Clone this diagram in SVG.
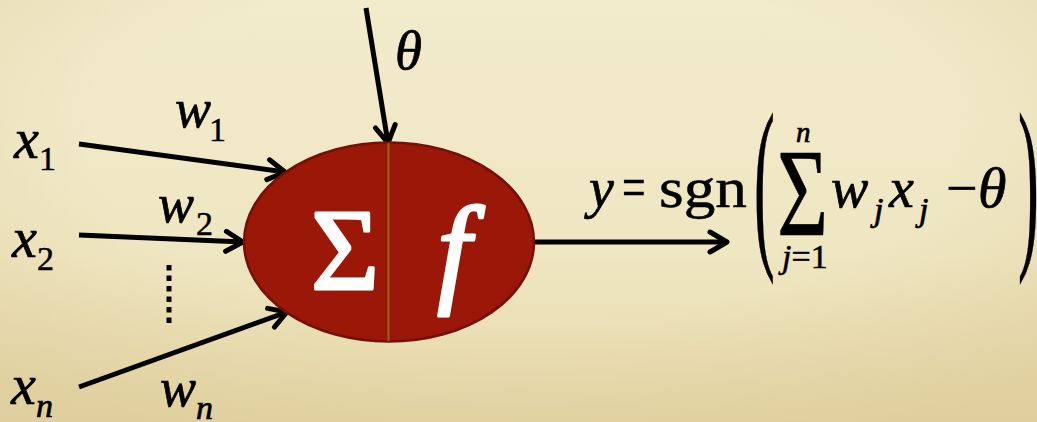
<svg xmlns="http://www.w3.org/2000/svg" width="1037" height="422" viewBox="0 0 1037 422">
  <defs>
    <linearGradient id="bg" x1="0" y1="0" x2="0" y2="1">
      <stop offset="0" stop-color="#f2ebcc"/>
      <stop offset="0.6" stop-color="#efe6c2"/>
      <stop offset="1" stop-color="#e6d8aa"/>
    </linearGradient>
    <radialGradient id="vig" cx="0.5" cy="0.35" r="0.75">
      <stop offset="0.55" stop-color="#d8c48e" stop-opacity="0"/>
      <stop offset="1" stop-color="#d8c48e" stop-opacity="0.45"/>
    </radialGradient>
    <marker id="arr" viewBox="0 0 24 24" refX="20" refY="12" markerWidth="24" markerHeight="24" markerUnits="userSpaceOnUse" orient="auto" overflow="visible">
      <path d="M3,2 L20,12 L3,22" fill="none" stroke="#000" stroke-width="5" stroke-linecap="round" stroke-linejoin="round"/>
    </marker>
    <style>
      text { font-family:"Liberation Serif", "Times New Roman", serif; }
      .ln { stroke:#000; stroke-width:5; fill:none; marker-end:url(#arr); }
      .mi { font-style:italic; fill:#000; stroke:#000; stroke-width:0.7; }
      .mr { font-style:normal; fill:#000; stroke:#000; stroke-width:0.5; }
      .wh { fill:#fff; stroke:#fff; stroke-width:3; stroke-linejoin:round; }
    </style>
  </defs>

  <rect x="0" y="0" width="1037" height="422" fill="url(#bg)"/>
  <rect x="0" y="0" width="1037" height="422" fill="url(#vig)"/>

  <g id="connectors">
    <line class="ln" x1="79" y1="144" x2="285" y2="172"/>
    <line class="ln" x1="79" y1="235" x2="243" y2="242"/>
    <line class="ln" x1="79" y1="387" x2="287" y2="312"/>
    <line class="ln" x1="366" y1="8" x2="388" y2="143"/>
    <line class="ln" x1="533" y1="242" x2="727" y2="242"/>
    <line x1="169" y1="265" x2="169" y2="325" stroke="#000" stroke-width="5" stroke-dasharray="5.5 5"/>
  </g>

  <g id="neuron">
    <ellipse cx="389" cy="242" rx="145" ry="99.5" fill="#9b1707" stroke="#74100a" stroke-width="2.5"/>
    <line x1="388.5" y1="143" x2="388.5" y2="341" stroke="#8c6a12" stroke-width="2"/>
    <text class="wh" x="311" y="289" font-size="117">Σ</text>
    <text class="wh" x="454" y="290" font-size="120" font-style="italic" text-anchor="middle" stroke-width="2">f</text>
  </g>

  <g id="input-x1">
    <text class="mi" x="14" y="158" font-size="56">x</text>
    <text class="mr" x="39" y="170" font-size="34">1</text>
  </g>
  <g id="input-x2">
    <text class="mi" x="12" y="257" font-size="56">x</text>
    <text class="mr" x="37" y="270" font-size="34">2</text>
  </g>
  <g id="input-xn">
    <text class="mi" x="11" y="404" font-size="56">x</text>
    <text class="mi" x="36" y="417" font-size="34">n</text>
  </g>
  <g id="weight-w1">
    <text class="mi" x="175" y="127" font-size="54">w</text>
    <text class="mr" x="209" y="141" font-size="34">1</text>
  </g>
  <g id="weight-w2">
    <text class="mi" x="158" y="222" font-size="54">w</text>
    <text class="mr" x="196" y="235" font-size="34">2</text>
  </g>
  <g id="weight-wn">
    <text class="mi" x="160" y="406" font-size="54">w</text>
    <text class="mi" x="196" y="419" font-size="34">n</text>
  </g>
  <g id="threshold">
    <text class="mi" x="395" y="69" font-size="55">θ</text>
  </g>

  <g id="formula">
    <text class="mi" x="589" y="207" font-size="56">y</text>
    <text class="mr" transform="translate(622 207) scale(0.7 1)" font-size="60">=</text>
    <text class="mr" x="659" y="207" font-size="58" textLength="88" lengthAdjust="spacingAndGlyphs">sgn</text>
    <text class="mr" transform="translate(754 243.6) scale(0.52 1.58)" font-size="120" stroke-width="0.3">(</text>
    <text class="mr" transform="translate(777 235) scale(0.71 1)" font-size="124">Σ</text>
    <text class="mi" x="796" y="142" font-size="29">n</text>
    <text x="782" y="268" font-size="34" class="mr"><tspan font-style="italic">j</tspan>=1</text>
    <text class="mi" x="831" y="207" font-size="56">w</text>
    <text class="mi" x="874" y="221" font-size="34">j</text>
    <text class="mi" x="889" y="207" font-size="56">x</text>
    <text class="mi" x="919" y="221" font-size="34">j</text>
    <text class="mr" x="946" y="207" font-size="56">−</text>
    <text class="mi" x="978" y="207" font-size="58">θ</text>
    <text class="mr" transform="translate(1018 243.6) scale(0.52 1.58)" font-size="120" stroke-width="0.3">)</text>
  </g>
</svg>
